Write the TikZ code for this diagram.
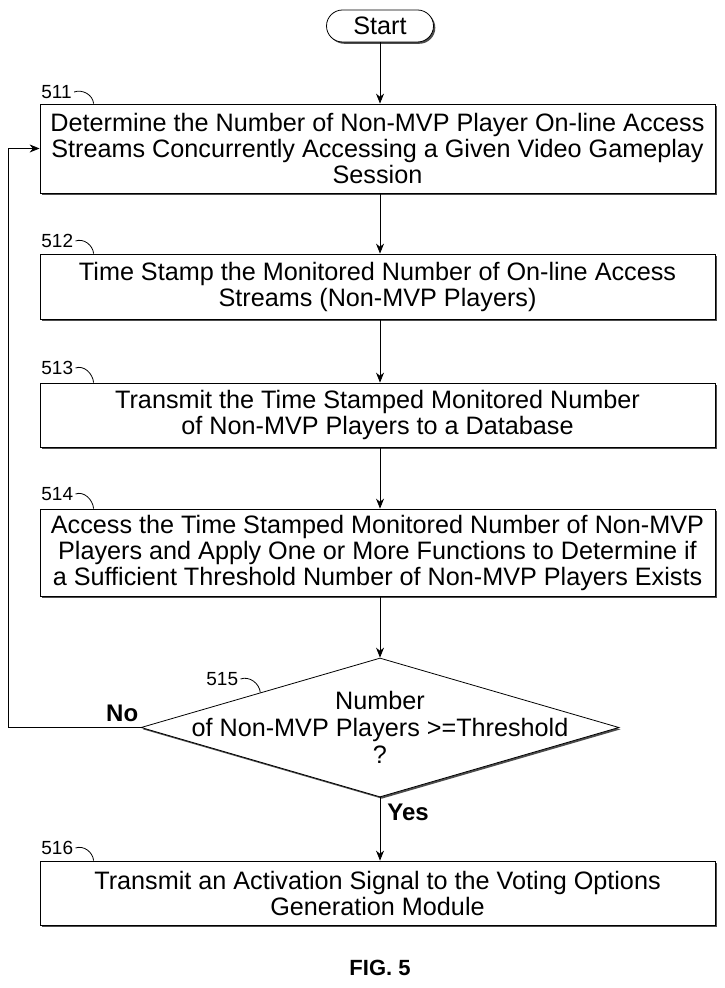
\documentclass[tikz,border=0pt]{standalone}
\usepackage{fontspec}
\setmainfont{Liberation Sans}
\usetikzlibrary{shapes,shadows,arrows.meta}

\begin{document}
\begin{tikzpicture}[x=0.5pt,y=-0.5pt,>={Stealth[length=5pt,width=4pt]}]

\useasboundingbox (0,0) rectangle (724,988);

\def\midx{380}
\def\boxx{377.5}
\def\labx{39}

\tikzstyle{shade}=[drop shadow={shadow xshift=0.9pt,shadow yshift=-0.9pt,fill=black!70,opacity=1}]
\tikzstyle{stepbox}=[rectangle,draw,thin,fill=white,minimum width=337.5pt,inner sep=0pt,align=center,font=\fontsize{12.6}{13}\selectfont,shade]
\tikzstyle{startbox}=[stepbox,rounded corners=8pt,minimum width=53.5pt,minimum height=16pt]
\tikzstyle{decision}=[diamond,draw,thin,fill=white,minimum width=239pt,minimum height=69.5pt,inner sep=0pt,aspect=3.44,shade]
\tikzstyle{refnum}=[font=\fontsize{9.5}{10}\selectfont,inner sep=1pt,anchor=west]
\tikzstyle{leader}=[thin]
\tikzstyle{yesno}=[font=\bfseries\fontsize{12}{13}\selectfont,inner sep=0pt]

%start
\node[startbox] (start) at (\midx,26) {Start};

%steps
\node[stepbox,minimum height=44.5pt] (b511) at (\boxx,148.5) {Determine the Number of Non-MVP Player On-line Access\\Streams Concurrently Accessing a Given Video Gameplay\\Session};
\node[stepbox,minimum height=32.5pt] (b512) at (\boxx,286.5) {Time Stamp the Monitored Number of On-line Access\\Streams (Non-MVP Players)};
\node[stepbox,minimum height=32pt] (b513) at (\boxx,415) {Transmit the Time Stamped Monitored Number\\of Non-MVP Players to a Database};
\node[stepbox,minimum height=43.5pt] (b514) at (\boxx,552.5) {Access the Time Stamped Monitored Number of Non-MVP\\Players and Apply One or More Functions to Determine if\\a Sufficient Threshold Number of Non-MVP Players Exists};

%decision
\node[decision] (dec) at (\midx,727.5) {};
\node[align=center,font=\fontsize{12.6}{13.5}\selectfont] (dectext) at (dec.center) {Number\\of Non-MVP Players >=Threshold\\?};

%last step
\node[stepbox,minimum height=32pt] (b516) at (\boxx,893) {Transmit an Activation Signal to the Voting Options\\Generation Module};

%reference numbers
\node[refnum] (l511) at (\labx,92) {511};
\node[refnum] (l512) at (\labx,241) {512};
\node[refnum] (l513) at (\labx,368) {513};
\node[refnum] (l514) at (\labx,494) {514};
\node[refnum] (l515) at (204,679) {515};
\node[refnum] (l516) at (\labx,848) {516};

\draw[leader] (l511.east) to[out=20,in=95] ([xshift=27pt]b511.north west);
\draw[leader] (l512.east) to[out=20,in=95] ([xshift=27pt]b512.north west);
\draw[leader] (l513.east) to[out=20,in=95] ([xshift=27pt]b513.north west);
\draw[leader] (l514.east) to[out=20,in=95] ([xshift=27pt]b514.north west);
\draw[leader] (l515.east) to[out=20,in=95] (dec.north west);
\draw[leader] (l516.east) to[out=20,in=95] ([xshift=27pt]b516.north west);

%connections
\draw[->] (start.south) -- (start.south |- b511.north);
\draw[->] (b511.south -| start) -- (b512.north -| start);
\draw[->] (b512.south -| start) -- (b513.north -| start);
\draw[->] (b513.south -| start) -- (b514.north -| start);
\draw[->] (b514.south -| start) -- (dec.north);
\draw[->] (dec.south) -- (dec.south |- b516.north);

% no / yes
\coordinate (loop) at (8,727.5);
\draw[->] (dec.west) -- (loop) |- (b511.west);
\node[yesno,anchor=base east] (no) at ([xshift=-1pt,yshift=3pt]dec.west) {No};
\node[yesno,anchor=west] (yes) at ([xshift=3.5pt,yshift=-7.5pt]dec.south) {Yes};

%caption
\node[font=\bfseries\fontsize{11}{13}\selectfont] (fig) at (\midx,968) {FIG. 5};

\end{tikzpicture}
\end{document}
